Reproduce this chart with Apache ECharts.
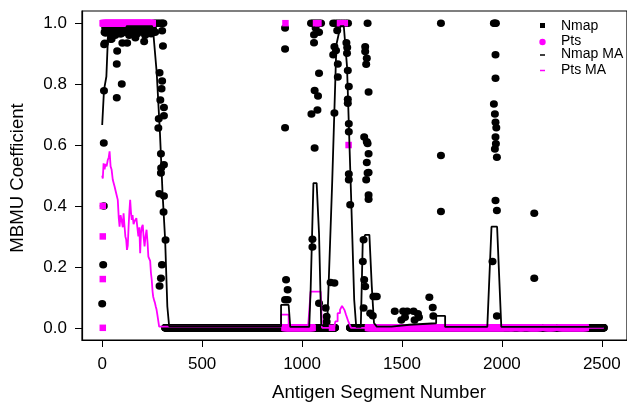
<!DOCTYPE html>
<html>
<head>
<meta charset="utf-8">
<script src="https://cdn.jsdelivr.net/npm/echarts@6/dist/echarts.min.js"></script>
<style>
html,body{margin:0;padding:0;background:#fff;}
#chart{width:627px;height:404px;}
</style>
</head>
<body>
<div id="chart"></div>
<script>
// Axis ticks
const xTicks = [0, 500, 1000, 1500, 2000, 2500];
const yTicks = [0, 0.2, 0.4, 0.6, 0.8, 1.0];

// Nmap MBMU coefficients that differ from zero: [segment, value]
const nmapPoints = [
  [0,0.079],[5,0.207],[8,0.40],[8,0.607],[9,0.778],[10,0.93],[12,0.97],
  [15,0.985],[25,0.975],[35,0.968],[45,0.985],[55,0.97],[65,0.96],[75,0.98],[85,0.975],[95,0.965],
  [105,0.985],[115,0.97],[125,0.975],[135,0.96],[145,0.98],[155,0.97],[165,0.985],[175,0.965],
  [185,0.975],[195,0.98],[205,0.97],[215,0.96],[225,0.985],[235,0.975],[245,0.965],[255,0.98],[265,0.97],
  [17,0.968],[46,0.985],[47,0.948],[90,0.965],[101,0.935],[125,0.935],[75,0.909],[73,0.866],
  [98,0.80],[73,0.755],[166,0.952],[210,0.94],[304,0.925],[300,0.975],[13,0.934],[43,0.947],
  [260,1],[270,1],[280,1],[290,1],[300,1],[306,1],
  [287,0.837],[300,0.81],[297,0.785],[291,0.748],[309,0.723],[309,0.696],[283,0.686],[281,0.656],
  [294,0.571],[309,0.535],[295,0.525],[294,0.508],[286,0.44],[309,0.433],[307,0.38],[317,0.288],
  [299,0.207],[294,0.163],[287,0.137],
  [915,0.984],[915,0.915],[915,0.657],[920,0.158],[928,0.125],[928,0.092],[915,0.092],
  [1045,1],[1055,1],[1065,1],[1075,1],[1085,1],[1095,1],
  [1068,0.984],[1060,0.962],[1085,0.97],[1060,0.936],[1085,0.836],[1063,0.779],[1080,0.761],[1077,0.715],
  [1047,0.702],[1063,0.59],[1052,0.291],[1052,0.265],[1085,0.081],[1118,0.065],[1123,0.037],[1123,0.02],
  [1143,0.149],[1162,0.147],
  [1156,1],[1168,1],[1180,1],[1192,1],[1205,1],[1218,1],[1230,1],
  [1176,0.976],[1162,0.923],[1156,0.896],[1170,0.91],[1179,0.866],[1179,0.823],[1162,0.705],
  [1222,0.936],[1226,0.92],[1225,0.901],[1229,0.845],[1234,0.792],[1229,0.75],[1229,0.737],
  [1234,0.67],[1234,0.644],[1234,0.505],[1234,0.486],[1241,0.404],
  [1328,1],[1316,0.923],[1316,0.907],[1324,0.885],[1321,0.865],[1333,0.774],[1311,0.626],[1324,0.611],
  [1328,0.605],[1333,0.571],[1324,0.543],[1328,0.508],[1321,0.486],[1333,0.51],[1333,0.436],[1333,0.422],
  [1308,0.289],[1304,0.218],[1311,0.158],[1316,0.136],[1308,0.065],[1341,0.048],[1357,0.103],[1354,0.04],
  [1365,0.103],[1374,0.103],
  [1464,0.054],[1506,0.054],[1526,0.054],[1497,0.026],[1515,0.035],[1558,0.054],[1580,0.046],
  [1563,0.026],[1585,0.035],[1637,0.1],[1654,0.067],[1657,0.039],
  [1695,1],[1695,0.566],[1695,0.382],
  [1960,1],[1965,1],[1970,1],[1968,0.896],[1968,0.819],[1960,0.735],[1965,0.702],[1968,0.675],
  [1972,0.657],[1968,0.626],[1970,0.604],[1965,0.587],[1975,0.56],[1968,0.418],[1975,0.385],
  [1953,0.218],[1975,0.039],
  [2162,0.376],[2162,0.163]
];
// Segment ranges where the Nmap coefficient is zero: [first, last]
const nmapZeroRuns = [[315,1165],[1240,2510]];

// Pts coefficients: [segment, value]
const ptsPoints = [
  [3,0.40],[3,0.30],[3,0.16],[3,0],
  [917,1],[1070,1],[1082,1],[1190,1],[1200,1],[1214,1],[1233,0.60]
];
// Segment ranges with a constant Pts value: [first, last, value]
const ptsRuns = [[3,253,1],[913,1052,0],[1150,1150,0],[1330,2020,0],[2030,2060,0],[2080,2110,0],[2130,2190,0],[2220,2260,0],[2290,2420,0]];

// Moving averages: [segment, value]
const nmapMA = [
  [0,0.666],[9,0.78],[21,0.825],[29,0.956],[35,0.97],[120,0.975],[122,0.99],[250,0.99],[255,0.975],
  [263,0.97],[273,0.836],[289,0.64],[302,0.443],[315,0.289],[326,0.07],[335,0.005],
  [895,0.005],[895,0.075],[933,0.075],[941,0.003],[1036,0.003],[1043,0.125],[1057,0.475],[1073,0.475],
  [1085,0.31],[1096,0.01],[1110,0.005],[1126,0.01],[1151,0.48],[1172,0.93],[1192,0.99],[1209,0.99],
  [1225,0.858],[1245,0.442],[1261,0.092],[1271,0.003],[1294,0.003],[1304,0.289],[1316,0.305],[1337,0.305],
  [1349,0.136],[1360,0.016],[1374,0.004],[1448,0.004],[1448,0.01],[1537,0.01],[1537,0.015],[1671,0.015],
  [1671,0.039],[1716,0.039],[1716,0.003],[1927,0.003],[1948,0.332],[1976,0.332],[1997,0.003],[2510,0.003]
];
const ptsMA = [
  [0,0.50],[3,0.49],[7,0.54],[12,0.52],[17,0.538],[22,0.53],[28,0.551],[33,0.56],[37,0.579],[42,0.53],
  [47,0.52],[53,0.486],[58,0.49],[62,0.464],[67,0.45],[70,0.442],[78,0.42],[83,0.36],[87,0.332],[92,0.37],
  [98,0.35],[103,0.33],[107,0.376],[111,0.34],[116,0.30],[120,0.29],[124,0.256],[128,0.27],[132,0.33],
  [136,0.38],[140,0.42],[144,0.38],[148,0.354],[152,0.37],[157,0.34],[162,0.35],[166,0.344],[171,0.36],
  [176,0.33],[181,0.30],[186,0.33],[190,0.245],[194,0.31],[198,0.33],[203,0.338],[207,0.30],[212,0.267],
  [217,0.30],[222,0.322],[227,0.28],[231,0.234],[236,0.24],[240,0.22],[244,0.18],[248,0.157],[252,0.12],
  [255,0.103],[260,0.09],[264,0.082],[268,0.07],[272,0.06],[276,0.043],[280,0.043],[285,0.004],
  [895,0.004],[895,0.043],[933,0.043],[933,0],[1030,0],[1043,0.119],[1093,0.119],[1100,0],[1160,0],
  [1167,0.021],[1178,0.021],[1178,0.048],[1190,0.048],[1190,0.059],[1200,0.059],[1200,0.072],[1210,0.072],
  [1212,0.059],[1220,0.043],[1232,0.02],[1245,0],[2510,0]
];

function expandRuns(runs, value) {
  const out = [];
  runs.forEach(r => {
    const v = r.length > 2 ? r[2] : value;
    for (let s = r[0]; s <= r[1]; s++) out.push([s, v]);
  });
  return out;
}

const nmapData = expandRuns(nmapZeroRuns, 0).concat(nmapPoints);
const ptsData = expandRuns(ptsRuns).concat(ptsPoints);

const FONT = 'Liberation Sans, Arial, Helvetica, sans-serif';
const MAGENTA = '#ff00ff';

const chart = echarts.init(document.getElementById('chart'), null, {renderer: 'canvas'});
chart.setOption({
  animation: false,
  backgroundColor: '#ffffff',
  grid: {left: 82, top: 11, right: -6, bottom: 64, show: true, borderColor: '#000', borderWidth: 1.2, backgroundColor: 'transparent'},
  xAxis: {
    type: 'value', min: -101, max: 2626,
    splitLine: {show: false},
    axisLine: {show: true, onZero: false, lineStyle: {color: '#000', width: 1.2}},
    axisTick: {show: true, customValues: xTicks, length: 7, lineStyle: {color: '#000', width: 1}},
    axisLabel: {customValues: xTicks, color: '#000', fontSize: 17, fontFamily: FONT, margin: 16,
      formatter: v => String(v)}
  },
  yAxis: {
    type: 'value', min: -0.04, max: 1.04,
    splitLine: {show: false},
    axisLine: {show: true, onZero: false, lineStyle: {color: '#000', width: 1.2}},
    axisTick: {show: true, customValues: yTicks, length: 7, lineStyle: {color: '#000', width: 1}},
    axisLabel: {customValues: yTicks, color: '#000', fontSize: 17, fontFamily: FONT, margin: 15,
      formatter: v => v.toFixed(1)}
  },
  series: [
    {name: 'Nmap', type: 'scatter', data: nmapData, symbol: 'circle', symbolSize: [8, 7.5],
     itemStyle: {color: '#000', opacity: 1}, z: 2, progressive: 0, silent: true},
    {name: 'Pts', type: 'scatter', data: ptsData, symbol: 'rect', symbolSize: 6.5,
     itemStyle: {color: MAGENTA, opacity: 1}, z: 3, progressive: 0, silent: true},
    {name: 'Pts MA', type: 'line', data: ptsMA, showSymbol: false, symbol: 'none',
     lineStyle: {color: MAGENTA, width: 1.8}, z: 4, silent: true},
    {name: 'Nmap MA', type: 'line', data: nmapMA, showSymbol: false, symbol: 'none',
     lineStyle: {color: '#000', width: 1.8}, z: 5, silent: true}
  ],
  graphic: [
    {type: 'text', left: 272, top: 383, style: {text: 'Antigen Segment Number', fontSize: 18.6, fontFamily: FONT, fill: '#000'}},
    {type: 'text', x: 18, y: 178, rotation: Math.PI / 2,
     style: {text: 'MBMU Coefficient', fontSize: 18.6, fontFamily: FONT, fill: '#000', align: 'center', verticalAlign: 'middle'}},
    // legend
    {type: 'rect', shape: {x: 540, y: 23, width: 5, height: 5}, style: {fill: '#000'}},
    {type: 'circle', shape: {cx: 542.5, cy: 42, r: 3.2}, style: {fill: MAGENTA}},
    {type: 'line', shape: {x1: 540, y1: 55, x2: 545, y2: 55}, style: {stroke: '#000', lineWidth: 1.5}},
    {type: 'line', shape: {x1: 540, y1: 70.5, x2: 545, y2: 70.5}, style: {stroke: MAGENTA, lineWidth: 1.5}},
    {type: 'text', x: 561, y: 26, style: {text: 'Nmap', fontSize: 14, fontFamily: FONT, fill: '#000', verticalAlign: 'middle'}},
    {type: 'text', x: 561, y: 41.5, style: {text: 'Pts', fontSize: 14, fontFamily: FONT, fill: '#000', verticalAlign: 'middle'}},
    {type: 'text', x: 561, y: 54.5, style: {text: 'Nmap MA', fontSize: 14, fontFamily: FONT, fill: '#000', verticalAlign: 'middle'}},
    {type: 'text', x: 561, y: 70.5, style: {text: 'Pts MA', fontSize: 14, fontFamily: FONT, fill: '#000', verticalAlign: 'middle'}}
  ]
});
</script>
</body>
</html>
